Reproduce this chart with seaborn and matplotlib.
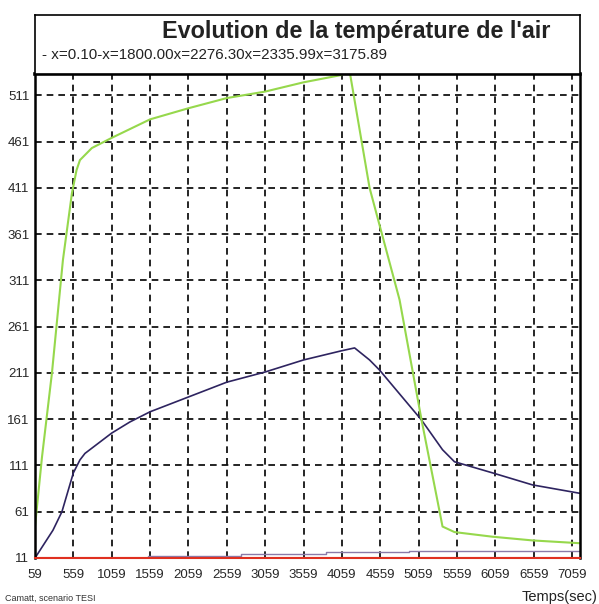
import numpy as np
import matplotlib
matplotlib.use("Agg")
import matplotlib.pyplot as plt
import seaborn as sns

# curves (time in sec, temperature)
t_green = [59, 150, 280, 423, 540, 600, 645, 800, 1059, 1559, 2059, 2559, 3059, 3559,
           4059, 4130, 4160, 4420, 4811, 5098, 5300, 5371, 5527, 6022, 6543, 7155]
v_green = [45, 120, 211, 333, 405, 430, 441, 454, 465, 485, 497, 508, 515, 525,
           533, 537, 537, 411, 290, 160, 75, 45, 39, 34, 30, 27]

t_purple = [59, 293, 410, 559, 645, 710, 1059, 1296, 1559, 2059, 2559, 3059, 3559,
            4059, 4225, 4420, 4551, 5098, 5371, 5527, 6022, 6543, 7155]
v_purple = [11, 41, 61, 103, 117, 124, 146, 158, 169, 185, 201, 212, 225,
            235, 238, 225, 214, 160, 128, 115, 103, 90, 81]

t_grey = [59, 1530, 1530, 2740, 2740, 3850, 3850, 4930, 4930, 7155]
v_grey = [11, 11, 13, 13, 15, 15, 17, 17, 19, 19]

t_red = [59, 7155]
v_red = [11, 11]

x_ticks = list(range(59, 7060, 500))
y_ticks = list(range(11, 512, 50))

title = "Evolution de la température de l'air"
legend_text = "- x=0.10-x=1800.00x=2276.30x=2335.99x=3175.89"

sns.set_style("white")
plt.rcParams['font.family'] = ['Liberation Sans', 'DejaVu Sans']

fig = plt.figure(figsize=(5.99, 6.04), dpi=100)
W, H = 599, 604
L, R, B, T = 35, 580, 558, 74
ax = fig.add_axes([L / W, 1 - B / H, (R - L) / W, (B - T) / H])

# header box
hax = fig.add_axes([L / W, 1 - T / H, (R - L) / W, (T - 15) / H])
hax.set_xticks([])
hax.set_yticks([])
for s in hax.spines.values():
    s.set_color("black")
    s.set_linewidth(1.2)
hax.text(0.59, 0.72, title, transform=hax.transAxes, ha="center", va="center",
         fontsize=16.8, fontweight="bold", color="#222222")
hax.text(0.012, 0.32, legend_text, transform=hax.transAxes, ha="left", va="center",
         fontsize=10.9, color="#222222")

sns.lineplot(x=t_red, y=v_red, ax=ax, color="#e03020", linewidth=2.2)
sns.lineplot(x=t_grey, y=v_grey, ax=ax, color="#8a7aa8", linewidth=1.0,
             estimator=None, sort=False)
sns.lineplot(x=t_purple, y=v_purple, ax=ax, color="#2e2460", linewidth=1.2)
sns.lineplot(x=t_green, y=v_green, ax=ax, color="#96d84c", linewidth=1.5)

ax.set_xlim(59, 7163)
ax.set_ylim(11, 534)
ax.set_xticks(x_ticks)
ax.set_yticks(y_ticks)
ax.set_xticks(np.arange(59, 7163, 100), minor=True)
ax.set_xticklabels([str(v) for v in x_ticks], fontsize=9.5)
ax.set_yticklabels([str(v) for v in y_ticks], fontsize=9.5)
ax.grid(True, which="major", color="black", linestyle=(0, (4, 3)), linewidth=1.2)
ax.tick_params(axis="x", which="both", direction="out", length=4, color="#b83030",
               width=1, pad=4)
ax.tick_params(axis="y", which="major", direction="inout", length=6, color="black",
               pad=1)
ax.set_xlabel("")
ax.set_ylabel("")
for s in ["left", "right"]:
    ax.spines[s].set_linewidth(1.8)
    ax.spines[s].set_color("black")
ax.spines["top"].set_linewidth(2.6)
ax.spines["top"].set_color("black")
ax.spines["bottom"].set_linewidth(1.5)
ax.spines["bottom"].set_color("#e03020")

fig.text(597 / W, 1 - 597 / H, "Temps(sec)", ha="right", va="center", fontsize=10.5,
         color="#222222")
fig.text(5 / W, 1 - 598 / H, "Camatt, scenario TESI", ha="left", va="center",
         fontsize=6.5, color="#333333")

fig.savefig("out.png", dpi=100, facecolor="white")
